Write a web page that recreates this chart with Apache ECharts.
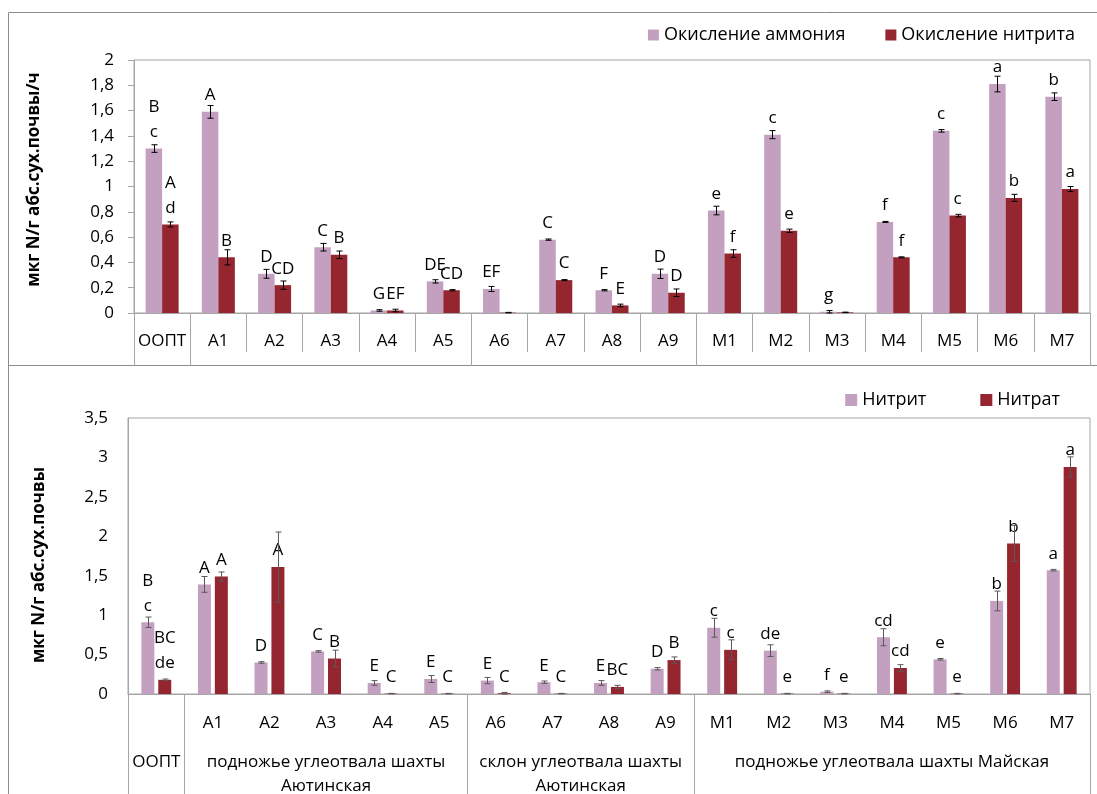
<!DOCTYPE html>
<html>
<head>
<meta charset="utf-8">
<script src="https://cdn.jsdelivr.net/npm/echarts@6/dist/echarts.min.js"></script>
<style>
  html, body { margin: 0; padding: 0; background: #ffffff; }
  #chart { width: 1097px; height: 794px; }
</style>
</head>
<body>
<div id="chart"></div>
<script>
// Sampling sites
const sites = ['ООПТ', 'А1', 'А2', 'А3', 'А4', 'А5', 'А6', 'А7', 'А8', 'А9', 'М1', 'М2', 'М3', 'М4', 'М5', 'М6', 'М7'];
// Second-panel first-row labels (ООПТ sits in the group row instead)
const sitesLower = ['', 'А1', 'А2', 'А3', 'А4', 'А5', 'А6', 'А7', 'А8', 'А9', 'М1', 'М2', 'М3', 'М4', 'М5', 'М6', 'М7'];

// Site groups: names and category boundaries
const groupNames = ['ООПТ', 'подножье углеотвала шахты\nАютинская', 'склон углеотвала шахты\nАютинская', 'подножье углеотвала шахты Майская'];
const groupBounds = [0, 1, 6, 10, 17];

// Nitrification rates, мкг N/г абс.сух.почвы/ч
const ammoniumOx = [1.30, 1.59, 0.31, 0.52, 0.02, 0.25, 0.19, 0.58, 0.18, 0.31, 0.81, 1.41, 0.01, 0.72, 1.44, 1.81, 1.71];
const ammoniumOxErr = [0.03, 0.05, 0.035, 0.03, 0.006, 0.013, 0.02, 0.005, 0.005, 0.037, 0.034, 0.032, 0.01, 0.004, 0.01, 0.062, 0.03];
const nitriteOx = [0.70, 0.44, 0.22, 0.46, 0.02, 0.18, 0.003, 0.26, 0.06, 0.16, 0.47, 0.65, 0.005, 0.44, 0.77, 0.91, 0.98];
const nitriteOxErr = [0.02, 0.06, 0.033, 0.03, 0.01, 0.005, 0.002, 0.004, 0.01, 0.03, 0.03, 0.013, 0.002, 0.004, 0.01, 0.028, 0.02];
const ammoniumOxLetters = ['B\nc', 'A', 'D', 'C', 'G', 'DE', 'EF', 'C', 'F', 'D', 'e', 'c', 'g', 'f', 'c', 'a', 'b'];
const nitriteOxLetters = ['A\nd', 'B', 'CD', 'B', 'EF', 'CD', '', 'C', 'E', 'D', 'f', 'e', '', 'f', 'c', 'b', 'a'];

// Nitrite and nitrate content, мкг N/г абс.сух.почвы
const nitrite = [0.91, 1.39, 0.40, 0.54, 0.14, 0.19, 0.17, 0.15, 0.14, 0.32, 0.84, 0.55, 0.03, 0.72, 0.44, 1.18, 1.57];
const nitriteErr = [0.066, 0.10, 0.01, 0.01, 0.03, 0.044, 0.04, 0.015, 0.03, 0.015, 0.12, 0.074, 0.01, 0.108, 0.01, 0.125, 0.01];
const nitrate = [0.18, 1.49, 1.61, 0.45, 0.005, 0.005, 0.01, 0.005, 0.09, 0.43, 0.56, 0.005, 0.005, 0.33, 0.005, 1.91, 2.88];
const nitrateErr = [0.01, 0.057, 0.444, 0.106, 0.003, 0.003, 0.01, 0.003, 0.02, 0.04, 0.127, 0.003, 0.003, 0.042, 0.003, 0.228, 0.127];
const nitriteLetters = ['B\nc', 'A', 'D', 'C', 'E', 'E', 'E', 'E', 'E', 'D', 'c', 'de', 'f', 'cd', 'e', 'b', 'a'];
const nitrateLetters = ['BC\nde', 'A', 'A', 'B', 'C', 'C', 'C', 'C', 'BC', 'B', 'c', 'e', 'e', 'cd', 'e', 'b', 'a'];

const FONT = 'Open Sans';
const PINK = '#c4a0c0';
const RED = '#95262f';
const AXIS_GRAY = '#a6a6a6';
const FRAME_GRAY = '#8c8c8c';

const decimalComma = v => String(+v.toFixed(2)).replace('.', ',');
const groupCenters = groupNames.map((_, i) => (groupBounds[i] + groupBounds[i + 1]) / 2);

function barSeries(name, values, letters, xi, yi, color, width, gap) {
  return {
    type: 'bar', name, xAxisIndex: xi, yAxisIndex: yi,
    data: values, barWidth: width, barGap: gap,
    itemStyle: { color },
    label: {
      show: true, position: 'top', distance: 4,
      formatter: p => letters[p.dataIndex],
      fontFamily: FONT, fontSize: 17, lineHeight: 25, color: '#000'
    },
    z: 2
  };
}

function errorBars(values, errs, xi, yi, offset, color, cap) {
  return {
    type: 'custom', xAxisIndex: xi, yAxisIndex: yi, silent: true, z: 4,
    data: values.map((v, i) => [i, Math.max(0, v - errs[i]), v + errs[i]]),
    renderItem(params, api) {
      const i = api.value(0);
      const lo = api.coord([i, api.value(1)]);
      const hi = api.coord([i, api.value(2)]);
      const x = Math.round(lo[0] + offset) + 0.5;
      const st = { stroke: color, lineWidth: 1 };
      return {
        type: 'group', children: [
          { type: 'line', shape: { x1: x, y1: lo[1], x2: x, y2: hi[1] }, style: st },
          { type: 'line', shape: { x1: x - cap, y1: hi[1], x2: x + cap, y2: hi[1] }, style: st },
          { type: 'line', shape: { x1: x - cap, y1: lo[1], x2: x + cap, y2: lo[1] }, style: st }
        ]
      };
    }
  };
}

const axisText = { fontFamily: FONT, fontSize: 17, color: '#000' };
const legendText = { fontFamily: FONT, fontSize: 18, color: '#000' };

const option = {
  animation: false,
  textStyle: { fontFamily: FONT },
  graphic: [
    { type: 'rect', shape: { x: 8.5, y: 12.5, width: 1200, height: 353 }, style: { fill: 'none', stroke: FRAME_GRAY, lineWidth: 1 }, z: 0 },
    { type: 'rect', shape: { x: 8.5, y: 365.5, width: 1200, height: 500 }, style: { fill: 'none', stroke: FRAME_GRAY, lineWidth: 1 }, z: 0 }
  ],
  legend: [
    {
      data: ['Окисление аммония', 'Окисление нитрита'],
      right: 17, top: 21, icon: 'rect', itemWidth: 11, itemHeight: 11, itemGap: 40,
      textStyle: legendText
    },
    {
      data: ['Нитрит', 'Нитрат'],
      right: 32, top: 386, icon: 'rect', itemWidth: 12, itemHeight: 12, itemGap: 54,
      textStyle: legendText
    }
  ],
  grid: [
    { left: 134, top: 60, right: 7, height: 253, outerBoundsMode: 'none', show: true, borderColor: AXIS_GRAY, borderWidth: 1, backgroundColor: 'transparent' },
    { left: 128, top: 418, right: 7, height: 276, outerBoundsMode: 'none', show: true, borderColor: AXIS_GRAY, borderWidth: 1, backgroundColor: 'transparent' }
  ],
  xAxis: [
    {
      type: 'category', gridIndex: 0, data: sites,
      axisLine: { lineStyle: { color: AXIS_GRAY } },
      axisTick: { show: true, interval: 0, length: 39, lineStyle: { color: AXIS_GRAY } },
      axisLabel: Object.assign({ interval: 0, margin: 20 }, axisText)
    },
    {
      type: 'value', gridIndex: 0, min: 0, max: 17, position: 'bottom',
      axisLine: { show: false }, splitLine: { show: false },
      axisLabel: { show: false },
      axisTick: { show: true, customValues: groupBounds, length: 53, lineStyle: { color: AXIS_GRAY } }
    },
    {
      type: 'category', gridIndex: 1, data: sitesLower,
      axisLine: { lineStyle: { color: AXIS_GRAY } },
      axisTick: { show: false },
      axisLabel: Object.assign({ interval: 0, margin: 21 }, axisText)
    },
    {
      type: 'value', gridIndex: 1, min: 0, max: 17, position: 'bottom',
      axisLine: { show: false }, splitLine: { show: false },
      axisLabel: Object.assign({
        customValues: groupCenters, margin: 56, lineHeight: 24,
        formatter: v => groupNames[groupCenters.indexOf(v)] || ''
      }, axisText),
      axisTick: { show: true, customValues: groupBounds, length: 100, lineStyle: { color: AXIS_GRAY } }
    }
  ],
  yAxis: [
    {
      type: 'value', gridIndex: 0, min: 0, max: 2, interval: 0.2,
      name: 'мкг N/г абс.сух.почвы/ч', nameLocation: 'middle', nameRotate: 90, nameGap: 91,
      nameTextStyle: { fontFamily: FONT, fontSize: 17, fontWeight: 'bold', color: '#000', padding: [0, 0, 0, 14] },
      axisLine: { show: true, lineStyle: { color: AXIS_GRAY } },
      axisTick: { show: true, length: 6, lineStyle: { color: AXIS_GRAY } },
      splitLine: { show: false },
      axisLabel: Object.assign({ margin: 20, formatter: decimalComma }, axisText)
    },
    {
      type: 'value', gridIndex: 1, min: 0, max: 3.5, interval: 0.5,
      name: 'мкг N/г абс.сух.почвы', nameLocation: 'middle', nameRotate: 90, nameGap: 80,
      nameTextStyle: { fontFamily: FONT, fontSize: 17, fontWeight: 'bold', color: '#000', padding: [0, 18, 0, 0] },
      axisLine: { show: true, lineStyle: { color: AXIS_GRAY } },
      axisTick: { show: false },
      splitLine: { show: false },
      axisLabel: Object.assign({ margin: 20, formatter: decimalComma }, axisText)
    }
  ],
  series: [
    barSeries('Окисление аммония', ammoniumOx, ammoniumOxLetters, 0, 0, PINK, 16.5, '0%'),
    barSeries('Окисление нитрита', nitriteOx, nitriteOxLetters, 0, 0, RED, 16.5, '0%'),
    errorBars(ammoniumOx, ammoniumOxErr, 0, 0, -8.25, '#000', 3),
    errorBars(nitriteOx, nitriteOxErr, 0, 0, 8.25, '#000', 3),
    barSeries('Нитрит', nitrite, nitriteLetters, 2, 1, PINK, 13, '30%'),
    barSeries('Нитрат', nitrate, nitrateLetters, 2, 1, RED, 13, '30%'),
    errorBars(nitrite, nitriteErr, 2, 1, -8.45, '#595959', 3),
    errorBars(nitrate, nitrateErr, 2, 1, 8.45, '#595959', 3)
  ]
};

const chart = echarts.init(document.getElementById('chart'), null, { renderer: 'canvas' });
chart.setOption(option);
</script>
</body>
</html>
